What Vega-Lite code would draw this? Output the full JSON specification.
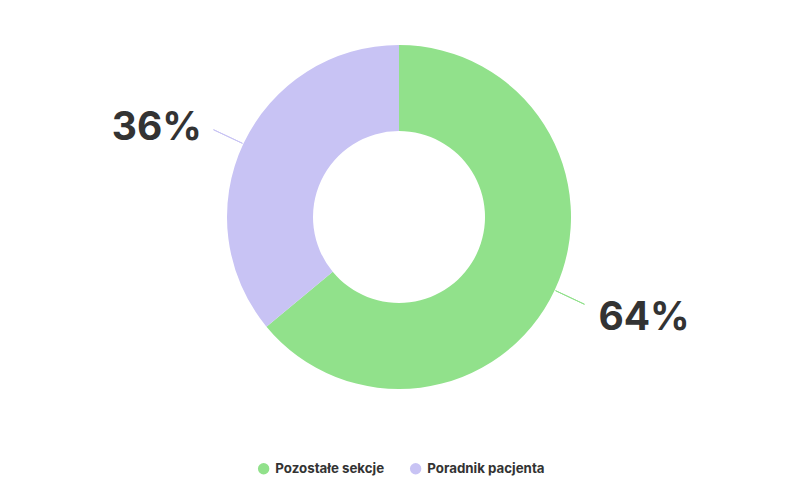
{
  "$schema": "https://vega.github.io/schema/vega-lite/v6.json",
  "width": 798,
  "height": 434,
  "padding": {"left": 0, "top": 0, "right": 2, "bottom": 46},
  "autosize": {"type": "none"},
  "background": "#ffffff",
  "config": {"view": {"stroke": null}},
  "data": {"values": [
    {"category": "Pozostałe sekcje", "value": 64, "label": "64%"},
    {"category": "Poradnik pacjenta", "value": 36, "label": "36%"}
  ]},
  "transform": [
    {"stack": "value", "groupby": [], "sort": [{"field": "category", "order": "descending"}], "as": ["start", "end"]},
    {"calculate": "(datum.start + datum.end) / 2", "as": "mid"}
  ],
  "layer": [
    {
      "mark": {"type": "arc", "outerRadius": 172, "innerRadius": 86, "padAngle": 0},
      "encoding": {
        "theta": {"field": "start", "type": "quantitative", "scale": {"domain": [0, 100], "range": [0, 6.283185307]}},
        "theta2": {"field": "end"},
        "color": {
          "field": "category", "type": "nominal",
          "scale": {"domain": ["Pozostałe sekcje", "Poradnik pacjenta"], "range": ["#91E18B", "#C8C3F4"]},
          "legend": {
            "title": null, "orient": "none", "legendX": 257, "legendY": 462, "direction": "horizontal",
            "symbolType": "circle", "symbolSize": 130, "symbolStrokeWidth": 0,
            "labelFont": "Inter", "labelFontSize": 13.3, "labelFontWeight": "bold", "labelColor": "#333333",
            "columnPadding": 24, "labelOffset": 5
          }
        }
      }
    },
    {
      "mark": {"type": "arc", "outerRadius": 205, "innerRadius": 173, "filled": false, "strokeWidth": 1},
      "encoding": {
        "theta": {"field": "mid", "type": "quantitative"},
        "theta2": {"field": "mid"},
        "stroke": {"field": "category", "type": "nominal", "legend": null,
          "scale": {"domain": ["Pozostałe sekcje", "Poradnik pacjenta"], "range": ["#91E18B", "#C8C3F4"]}}
      }
    },
    {
      "transform": [{"filter": "datum.category == 'Pozostałe sekcje'"}],
      "mark": {"type": "text", "radius": 262, "dx": 8, "dy": -11, "font": "Inter", "fontSize": 39, "fontWeight": "bold", "fill": "#333333", "align": "center", "baseline": "middle"},
      "encoding": {
        "theta": {"field": "mid", "type": "quantitative"},
        "text": {"field": "label"}
      }
    },
    {
      "transform": [{"filter": "datum.category == 'Poradnik pacjenta'"}],
      "mark": {"type": "text", "radius": 262, "dx": -5, "dy": 23, "font": "Inter", "fontSize": 39, "fontWeight": "bold", "fill": "#333333", "align": "center", "baseline": "middle"},
      "encoding": {
        "theta": {"field": "mid", "type": "quantitative"},
        "text": {"field": "label"}
      }
    }
  ]
}
